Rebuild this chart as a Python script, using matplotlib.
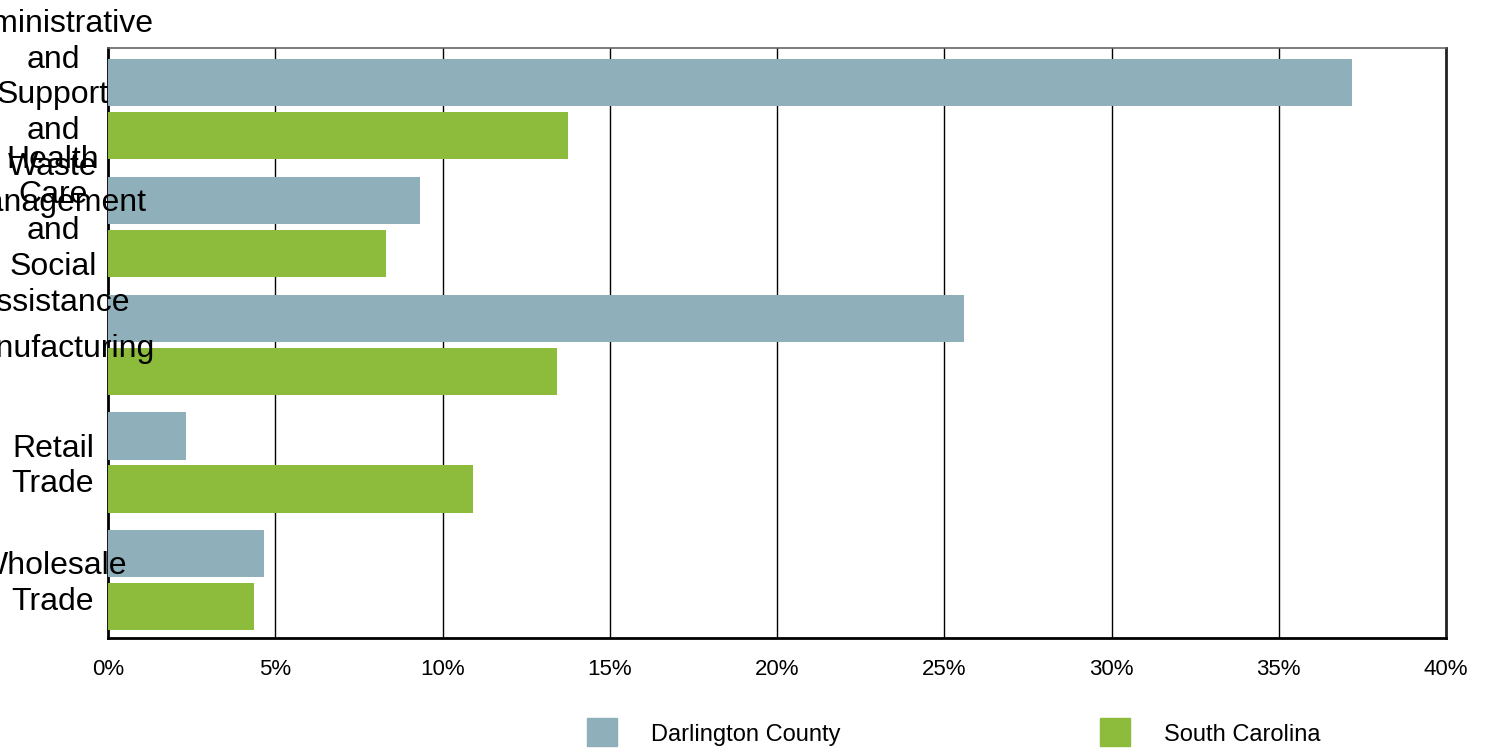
import matplotlib
matplotlib.use("Agg")
import matplotlib.pyplot as plt
from matplotlib.patches import Rectangle
from matplotlib.transforms import blended_transform_factory

plt.rcParams['font.family'] = ['Liberation Sans', 'DejaVu Sans']

categories = ["Administrative and Support and Waste Management",
              "Health Care and Social Assistance",
              "Manufacturing",
              "Retail Trade",
              "Wholesale Trade"]
darlington = [37.2, 9.33, 25.6, 2.33, 4.66]
south_carolina = [13.75, 8.31, 13.42, 10.91, 4.36]
series_names = ["Darlington County", "South Carolina"]
xticks = [0, 5, 10, 15, 20, 25, 30, 35, 40]
xtick_labels = [f"{t}%" for t in xticks]

c_blue = "#8fafba"
c_green = "#8dbb3b"

W, H = 1486, 751
fig = plt.figure(figsize=(W / 100, H / 100), dpi=100)
ax = fig.add_axes([108 / W, (H - 638) / H, (1446 - 108) / W, (638 - 48) / H])

ys = list(range(len(categories)))
ax.barh([y - 0.225 for y in ys], darlington, height=0.4, color=c_blue, zorder=3)
ax.barh([y + 0.225 for y in ys], south_carolina, height=0.4, color=c_green, zorder=3)

ax.set_xlim(0, 40)
ax.set_ylim(4.49, -0.52)
ax.set_xticks(xticks)
ax.set_xticklabels(xtick_labels, fontsize=16)
ax.tick_params(axis='x', length=0, pad=15)
ax.set_yticks([])
for t in xticks[1:-1]:
    ax.axvline(t, color='black', lw=1, zorder=1)

for side in ['left', 'bottom']:
    ax.spines[side].set_linewidth(2)
    ax.spines[side].set_color('black')
ax.spines['right'].set_linewidth(2)
ax.spines['right'].set_color('#222222')
ax.spines['top'].set_linewidth(1.2)
ax.spines['top'].set_color('#666666')

trans = blended_transform_factory(fig.transFigure, ax.transData)
for y, cat in zip(ys, categories):
    ax.text(53 / W, y + 0.034, "\n".join(cat.split()), transform=trans, ha='center', va='center',
            fontsize=23, linespacing=1.25, clip_on=False)

# legend
legend_items = [(587, c_blue, series_names[0], 651), (1100, c_green, series_names[1], 1164)]
for px, col, name, tx in legend_items:
    fig.patches.append(Rectangle((px / W, (H - 746) / H), 30 / W, 28 / H,
                                 transform=fig.transFigure, color=col))
    fig.text(tx / W, (H - 735) / H, name, ha='left', va='center', fontsize=17)

fig.savefig("out.png", dpi=100)
